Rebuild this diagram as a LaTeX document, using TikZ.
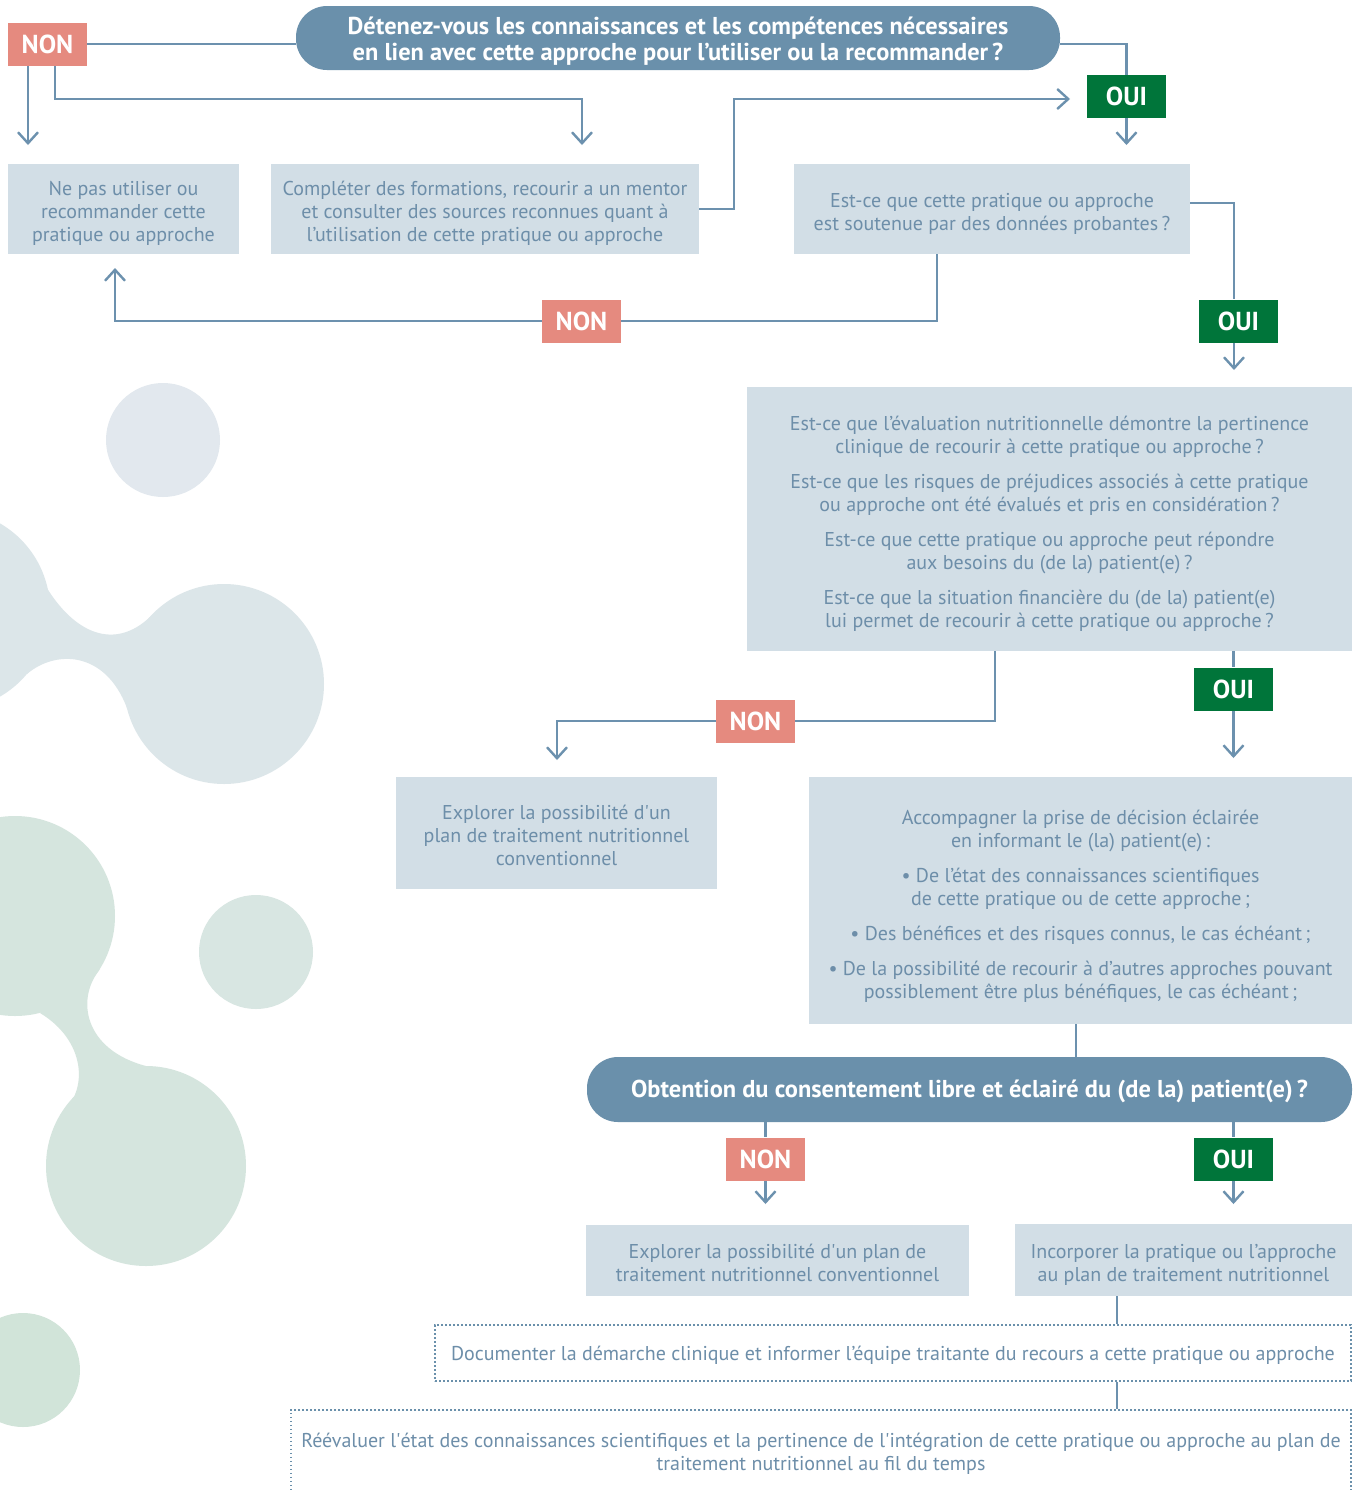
\documentclass[tikz,border=0pt]{standalone}
\usepackage{fontspec}
\setmainfont{PT Sans}
\usetikzlibrary{arrows.meta,calc}
\definecolor{pillc}{HTML}{6A90AB}
\definecolor{nonc}{HTML}{E58A7F}
\definecolor{ouic}{HTML}{00753A}
\definecolor{boxfill}{HTML}{D2DEE6}
\definecolor{boxtext}{HTML}{6D8EA9}
\definecolor{connc}{HTML}{6C91AE}
\definecolor{blobA}{HTML}{E2E8EE}
\definecolor{blobB}{HTML}{DCE6E9}
\definecolor{blobC}{HTML}{D8E6E2}
\definecolor{blobD}{HTML}{D5E5DE}
\definecolor{blobE}{HTML}{D1E4D9}
\newcommand{\sq}{\textquotesingle}
\begin{document}
\begin{tikzpicture}[x=0.5pt,y=-0.5pt,
  box/.style={fill=boxfill, inner sep=0pt},
  btext/.style={text=boxtext, align=center, inner sep=0pt,
    font=\fontsize{10}{11.5}\selectfont},
  dotbox/.style={draw=pillc, line width=0.8pt, dash pattern=on 0.8pt off 1.2pt, inner sep=0pt},
  pill/.style={fill=pillc, inner sep=0pt, rounded corners=15.5pt},
  pilltext/.style={text=white, align=center, inner sep=0pt,
    font=\bfseries\fontsize{12.2}{13}\selectfont},
  lab/.style={minimum width=39.5pt, minimum height=21.5pt, inner sep=0pt,
    text=white, font=\bfseries\fontsize{13}{13}\selectfont},
  nonlab/.style={lab, fill=nonc},
  ouilab/.style={lab, fill=ouic},
  conn/.style={draw=connc, line width=1.2pt},
  arr/.style={conn, -{Straight Barb[length=5.5pt,width=10pt]}}]
\useasboundingbox (0,0) rectangle (1356,1490);
\fill[white] (0,0) rectangle (1356,1490);
% decorative blobs
\fill[blobA] (163,440) circle[radius=57];
\fill[blobB] (-50,610) circle[radius=100];
\fill[blobB] (224,684) circle[radius=100];
\fill[blobB] (45,585) .. controls (75,635) and (115,650) .. (150,617)
  -- (127,708) .. controls (105,650) and (55,650) .. (27,674) -- cycle;
\fill[blobC] (256,952) circle[radius=57];
\fill[blobD] (15,916) circle[radius=100];
\fill[blobD] (146,1166) circle[radius=100];
\fill[blobD] (100,969) .. controls (75,1000) and (85,1050) .. (146,1066)
  -- (60,1115) .. controls (90,1090) and (85,1040) .. (40,1013) -- cycle;
\fill[blobE] (23,1370) circle[radius=57];

% nodes
\node[pill, minimum width=382pt, minimum height=32pt] (title) at (678,38) {};
\node[pilltext] (titletext) at ([yshift=-1.5pt]title.center)
  {Détenez-vous les connaissances et les compétences nécessaires\\
   en lien avec cette approche pour l’utiliser ou la recommander\,?};
\node[nonlab] (non1) at (47.5,44.5) {NON};
\node[ouilab] (oui1) at (1126.5,96.5) {OUI};

\node[box, minimum width=115.5pt, minimum height=45pt] (ne) at (123.5,209) {};
\node[btext] (netext) at ([yshift=-2pt]ne.center)
  {Ne pas utiliser ou\\recommander cette\\pratique ou approche};
\node[box, minimum width=214pt, minimum height=45pt] (comp) at (485,209) {};
\node[btext] (comptext) at ([yshift=-2pt]comp.center)
  {Compléter des formations, recourir a un mentor\\
   et consulter des sources reconnues quant à\\
   l’utilisation de cette pratique ou approche};
\node[box, minimum width=198pt, minimum height=45pt] (est) at (992,209) {};
\node[btext] (esttext) at ([yshift=-2.3pt]est.center)
  {Est-ce que cette pratique ou approche\\est soutenue par des données probantes\,?};
\node[ouilab] (oui2) at (1238.5,321) {OUI};
\node[nonlab] (non2) at (581.5,321) {NON};
\node[box, minimum width=302.5pt, minimum height=132pt] (big) at (1049.5,519) {};
\node[btext] (bigtext) at ([yshift=-2.2pt]big.center)
  {Est-ce que l’évaluation nutritionnelle démontre la pertinence\\
   clinique de recourir à cette pratique ou approche\,?\\[6pt]
   Est-ce que les risques de préjudices associés à cette pratique\\
   ou approche ont été évalués et pris en considération\,?\\[6pt]
   Est-ce que cette pratique ou approche peut répondre\\
   aux besoins du (de la) patient(e)\,?\\[6pt]
   Est-ce que la situation financière du (de la) patient(e)\\
   lui permet de recourir à cette pratique ou approche\,?};
\node[nonlab] (non3) at (755.5,721) {NON};
\node[ouilab] (oui3) at (1233.5,689) {OUI};
\node[box, minimum width=160.5pt, minimum height=56pt] (expl1) at (556.5,833) {};
\node[btext] (expl1text) at ([yshift=-1.2pt]expl1.center)
  {Explorer la possibilité d\sq un\\plan de traitement nutritionnel\\conventionnel};
\node[box, minimum width=271.5pt, minimum height=123.5pt] (acc) at (1080.5,900.5) {};
\node[btext] (acctext) at ([yshift=-2.7pt]acc.center)
  {Accompagner la prise de décision éclairée\\
   en informant le (la) patient(e)\,:\\[6pt]
   • De l’état des connaissances scientifiques\\
   de cette pratique ou de cette approche\,;\\[6pt]
   • Des bénéfices et des risques connus, le cas échéant\,;\\[6pt]
   • De la possibilité de recourir à d’autres approches pouvant\\
   possiblement être plus bénéfiques, le cas échéant\,;};
\node[pill, minimum width=382.5pt, minimum height=32.5pt] (pill2) at (969.5,1089.5) {};
\node[pilltext] (pill2text) at ([yshift=-1pt]pill2.center)
  {Obtention du consentement libre et éclairé du (de la) patient(e)\,?};
\node[nonlab] (non4) at (765.5,1159) {NON};
\node[ouilab] (oui4) at (1233.5,1159) {OUI};
\node[box, minimum width=191.5pt, minimum height=35.5pt] (expl2) at (777.5,1260.5) {};
\node[btext] (expl2text) at ([yshift=-1pt]expl2.center)
  {Explorer la possibilité d\sq un plan de\\traitement nutritionnel conventionnel};
\node[box, minimum width=168.5pt, minimum height=36pt] (inc) at (1183.5,1260) {};
\node[btext] (inctext) at ([yshift=-2.5pt]inc.center)
  {Incorporer la pratique ou l’approche\\au plan de traitement nutritionnel};
\node[dotbox, minimum width=458pt, minimum height=28pt] (doc) at (893,1353) {};
\node[btext] (doctext) at ([yshift=-1pt]doc.center)
  {Documenter la démarche clinique et informer l’équipe traitante du recours a cette pratique ou approche};
\node[dotbox, minimum width=530pt, minimum height=42.5pt, anchor=north] (reev) at (821,1409) {};
\node[btext] (reevtext) at ([yshift=-0.5pt]reev.center)
  {Réévaluer l\sq état des connaissances scientifiques et la pertinence de l\sq intégration de cette pratique ou approche au plan de\\
   traitement nutritionnel au fil du temps};

% helper coordinates
\coordinate (L) at (0,44);
\coordinate (t1) at (28,145);
\coordinate (b2) at (55,99);
\coordinate (t2) at (582,145);
\coordinate (b3) at (734,99);
\coordinate (t3) at (1070,99);
\coordinate (c4) at (1234,0);
\coordinate (t4) at (1234,370);
\coordinate (b5) at (937,321);
\coordinate (t5) at (115,268);
\coordinate (b6) at (995,721);
\coordinate (t6) at (557,760);
\coordinate (t7) at (1233.5,758);
\coordinate (c8) at (1076,0);
\coordinate (t9) at (0,1204);
\coordinate (c10) at (1117,0);

% connectors
\draw[conn] (non1.east |- L) -- (title.west |- L);
\draw[arr] (t1 |- non1.south) -- (t1);
\draw[arr] (b2 |- non1.south) -- (b2) -| (t2);
\draw[conn] (title.east |- L) -| (oui1.north);
\draw[arr] (oui1.south) -- (oui1.south |- t1);
\draw[arr] (comp.east) -| (b3) -- (t3);
\draw[conn] ([yshift=3pt]est.east) -| (c4 |- oui2.north);
\draw[arr] (c4 |- oui2.south) -- (t4);
\draw[conn] (b5 |- est.south) -- (b5) -- (non2.east);
\draw[arr] (non2.west) -| (t5);
\draw[conn] (b6 |- big.south) -- (b6) -- (non3.east);
\draw[arr] (non3.west) -| (t6);
\draw[conn] (oui3.north |- big.south) -- (oui3.north);
\draw[arr] (oui3.south) -- (t7);
\draw[conn] (c8 |- acc.south) -- (c8 |- pill2.north);
\draw[conn] (non4.north |- pill2.south) -- (non4.north);
\draw[arr] (non4.south) -- (non4.south |- t9);
\draw[conn] (oui4.north |- pill2.south) -- (oui4.north);
\draw[arr] (oui4.south) -- (oui4.south |- t9);
\draw[conn] (c10 |- inc.south) -- (c10 |- doc.north);
\draw[conn] (c10 |- doc.south) -- (c10 |- reev.north);
\end{tikzpicture}
\end{document}
